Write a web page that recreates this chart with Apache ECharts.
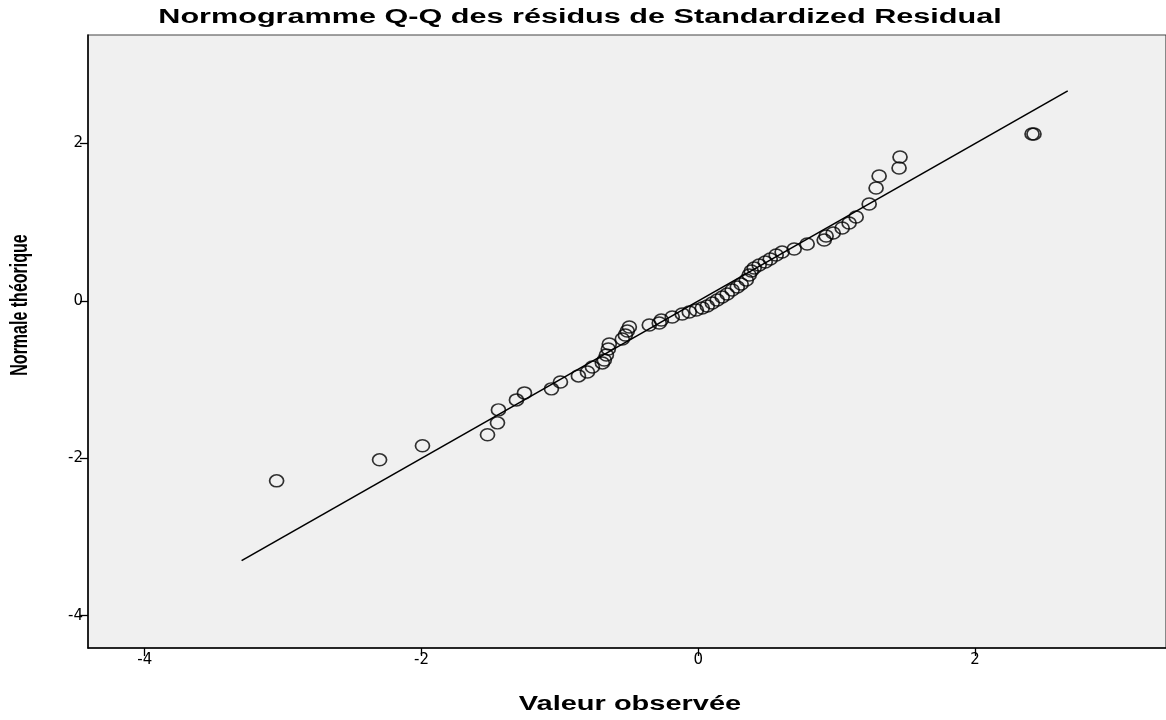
<!DOCTYPE html>
<html>
<head>
<meta charset="utf-8">
<script src="https://cdn.jsdelivr.net/npm/echarts@6/dist/echarts.min.js"></script>
<style>
html,body{margin:0;padding:0;background:#fff;}
#chart{width:1166px;height:720px;}
</style>
</head>
<body>
<div id="chart"></div>
<script>
// Observed values (x) and expected normal quantiles (y)
var observed = [-3.047,-2.303,-1.993,-1.523,-1.451,-1.444,-1.314,-1.256,-1.061,-0.996,
  -0.866,-0.801,-0.765,-0.693,-0.679,-0.664,-0.650,-0.643,-0.549,-0.527,
  -0.513,-0.498,-0.354,-0.282,-0.267,-0.188,-0.116,-0.065,-0.014,0.029,
  0.065,0.101,0.137,0.173,0.209,0.245,0.282,0.310,0.347,0.368,
  0.383,0.404,0.440,0.484,0.520,0.563,0.606,0.693,0.787,0.910,
  0.924,0.975,1.040,1.090,1.141,1.235,1.285,1.307,1.451,1.458,
  2.412,2.426];
var expected = [-2.286,-2.019,-1.841,-1.701,-1.549,-1.384,-1.257,-1.168,-1.117,-1.029,
  -0.952,-0.902,-0.838,-0.787,-0.749,-0.686,-0.610,-0.546,-0.483,-0.432,
  -0.381,-0.330,-0.305,-0.279,-0.241,-0.203,-0.165,-0.140,-0.114,-0.089,
  -0.063,-0.025,0.013,0.051,0.089,0.140,0.178,0.216,0.267,0.330,
  0.381,0.419,0.457,0.495,0.533,0.584,0.622,0.660,0.724,0.775,
  0.825,0.863,0.927,0.990,1.067,1.232,1.435,1.587,1.689,1.829,
  2.121,2.121];
var refLine = [[-3.30,-3.30],[2.67,2.67]];
var tickValues = [-4,-2,0,2];
var axisMin = -4.41, axisMax = 3.38;
var titleText = 'Normogramme Q-Q des résidus de Standardized Residual';
var xName = 'Valeur observée';
var yName = 'Normale théorique';

var points = observed.map(function(v,i){return [v, expected[i]];});

var chart = echarts.init(document.getElementById('chart'));
var axisCommon = {
  type:'value', min:axisMin, max:axisMax,
  splitLine:{show:false},
  axisLine:{show:true, onZero:false, lineStyle:{color:'#000', width:1.5}},
  axisTick:{show:true, customValues:tickValues, length:8, lineStyle:{color:'#000', width:1.3}},
  axisLabel:{customValues:tickValues, color:'#000', fontFamily:'DejaVu Sans', fontSize:15, margin:5}
};
chart.setOption({
  backgroundColor:'#fff',
  animation:false,
  grid:{left:88, top:35, right:-1, bottom:72, show:true, backgroundColor:'#f0f0f0', borderColor:'#444', borderWidth:1.2},
  xAxis:echarts.util.merge({}, axisCommon, true),
  yAxis:echarts.util.merge({}, axisCommon, true),
  graphic:[
    {type:'text', x:580, y:17, scaleX:1.53, silent:true,
     style:{text:titleText, font:'bold 20px "Liberation Sans", Arial, sans-serif', fill:'#000',
            align:'center', verticalAlign:'middle', textAlign:'center', textVerticalAlign:'middle'}},
    {type:'text', x:630, y:704, scaleX:1.45, silent:true,
     style:{text:xName, font:'bold 20px "Liberation Sans", Arial, sans-serif', fill:'#000',
            align:'center', verticalAlign:'middle', textAlign:'center', textVerticalAlign:'middle'}},
    {type:'text', x:20, y:305, rotation:Math.PI/2, scaleY:1.5, silent:true,
     style:{text:yName, font:'bold 16px "Liberation Sans", Arial, sans-serif', fill:'#000',
            align:'center', verticalAlign:'middle', textAlign:'center', textVerticalAlign:'middle'}}
  ],
  series:[
    {type:'line', data:refLine, symbol:'none', silent:true,
     lineStyle:{color:'#000', width:1.6}, z:2},
    {type:'scatter', data:points, symbol:'circle', symbolSize:[14,12],
     itemStyle:{color:'rgba(0,0,0,0)', borderColor:'#000', borderWidth:1.6}, z:3}
  ]
});
</script>
</body>
</html>
